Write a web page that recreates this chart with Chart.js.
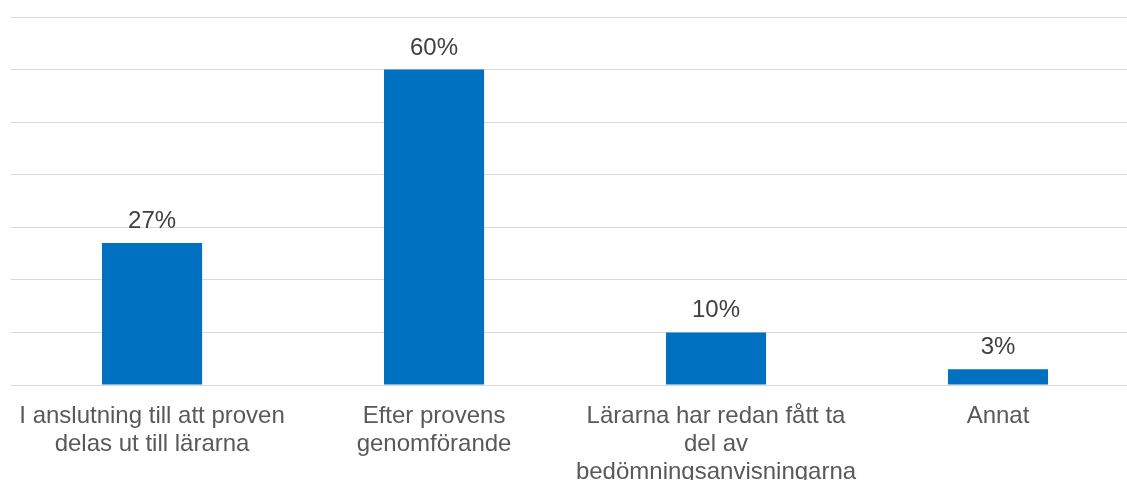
<!DOCTYPE html>
<html>
<head>
<meta charset="utf-8">
<script src="https://cdn.jsdelivr.net/npm/chart.js@4"></script>
<style>
html,body{margin:0;padding:0;background:#fff;overflow:hidden;}
#wrap{width:1139px;height:480px;position:relative;}
</style>
</head>
<body>
<div id="wrap"><canvas id="c"></canvas></div>
<script>
const categories = [
  ["I anslutning till att proven", "delas ut till lärarna"],
  ["Efter provens", "genomförande"],
  ["Lärarna har redan fått ta", "del av", "bedömningsanvisningarna"],
  ["Annat"]
];
const values = [27, 60, 10, 3];
const valueLabels = ["27%", "60%", "10%", "3%"];

const FONT = "'Liberation Sans', Arial, sans-serif";

const dataLabels = {
  id: 'dataLabels',
  afterDatasetsDraw(chart) {
    const ctx = chart.ctx;
    const meta = chart.getDatasetMeta(0);
    ctx.save();
    ctx.font = "24px " + FONT;
    ctx.fillStyle = "#404040";
    ctx.textAlign = "center";
    ctx.textBaseline = "alphabetic";
    meta.data.forEach((bar, i) => {
      ctx.fillText(valueLabels[i], bar.x, bar.y - 15);
    });
    ctx.restore();
  }
};

new Chart(document.getElementById('c'), {
  type: 'bar',
  data: {
    labels: categories,
    datasets: [{
      data: values,
      backgroundColor: '#0070C0',
      borderWidth: 0,
      categoryPercentage: 1,
      barPercentage: 0.355
    }]
  },
  options: {
    responsive: true,
    maintainAspectRatio: false,
    animation: false,
    devicePixelRatio: 1,
    layout: { padding: { left: 10.5, right: 0, top: 17, bottom: 0 } },
    plugins: { legend: { display: false }, tooltip: { enabled: false } },
    scales: {
      x: {
        grid: { display: false, drawTicks: false },
        border: { color: '#d9d9d9', width: 1 },
        ticks: {
          color: '#595959',
          font: { family: FONT, size: 24, lineHeight: 1.15 },
          padding: 18,
          maxRotation: 0,
          autoSkip: false
        },
        afterFit(s) { s.height = 95; }
      },
      y: {
        min: 0, max: 70,
        ticks: { display: false, stepSize: 10 },
        grid: { color: '#d9d9d9', lineWidth: 1, drawTicks: false },
        border: { display: false },
        afterFit(s) { s.width = 0; }
      }
    }
  },
  plugins: [dataLabels]
});
</script>
</body>
</html>
